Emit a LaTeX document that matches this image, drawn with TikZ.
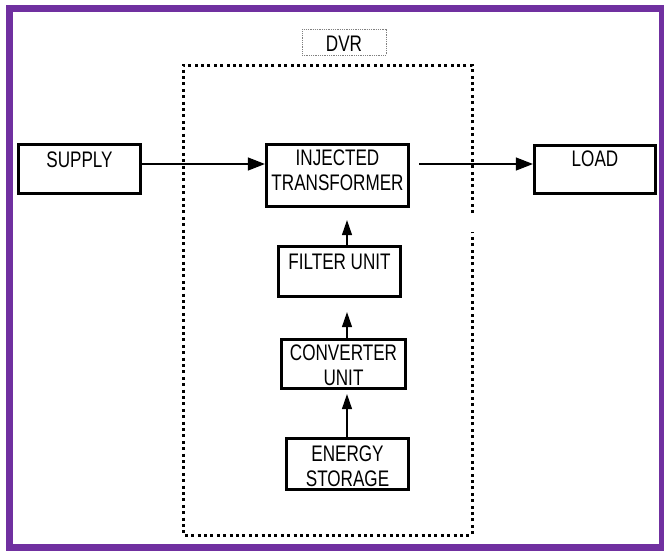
\documentclass[tikz,border=0pt]{standalone}
\usepackage{fontspec}
\setmainfont{Liberation Sans}[FakeStretch=0.76]
\usetikzlibrary{arrows.meta}
\definecolor{framepurple}{RGB}{112,48,160}
\begin{document}
\begin{tikzpicture}[x=1pt,y=-1pt,
  blk/.style={draw=black,line width=3.2pt,minimum width=#1,inner sep=0pt},
  lbl/.style={font=\fontsize{22.5}{25}\selectfont,align=center,inner sep=0pt,anchor=center},
  hflow/.style={draw=black,line width=1.2pt,-{Triangle[length=17pt,width=13pt]}},
  vflow/.style={draw=black,line width=1.2pt,-{Triangle[length=15pt,width=10pt]}},
  dvrline/.style={draw=black,line width=3pt,dash pattern=on 3pt off 3.4pt}]
\useasboundingbox (0,0) rectangle (664,550);
\fill[white] (0,0) rectangle (664,550);
\begin{scope}
\clip (0,0) rectangle (664,550);
\draw[framepurple,line width=7pt] (9.5,8.5) rectangle (662.5,547.5);
\end{scope}
% DVR enclosure
\draw[dvrline] (472,213) -- (472,65) -- (183,65) -- (183,535) -- (472,535) -- (472,232);
\node[draw=gray,line width=0.8pt,dash pattern=on 1pt off 0.8pt,minimum width=84pt,minimum height=26pt,inner sep=0pt] (dvr) at (344,42) {};
\node[lbl] (dvrtxt) at (344,44) {DVR};
% blocks
\node[blk=122pt,minimum height=49pt] (supply) at (79.5,169) {};
\node[lbl] (supplytxt) at (79.5,160) {SUPPLY};
\node[blk=142pt,minimum height=62pt] (inj) at (337.5,175.5) {};
\node[lbl] (injtxt) at (337.5,170.5) {INJECTED\\TRANSFORMER};
\node[blk=121pt,minimum height=48pt] (load) at (595,169.5) {};
\node[lbl] (loadtxt) at (595,159) {LOAD};
\node[blk=122pt,minimum height=50pt] (filter) at (339.5,271.5) {};
\node[lbl] (filtertxt) at (339.5,262) {FILTER UNIT};
\node[blk=124pt,minimum height=49pt] (conv) at (343.5,364) {};
\node[lbl] (convtxt) at (343.5,365) {CONVERTER\\UNIT};
\node[blk=122pt,minimum height=51pt] (energy) at (347.5,464) {};
\node[lbl] (energytxt) at (347.5,466) {ENERGY\\STORAGE};
% connectors
\coordinate (loadin) at (load.west |- 0,164);
\coordinate (injout) at (419,164);
\draw[hflow] (supply.east |- 0,164) -- (inj.west |- 0,164);
\draw[hflow] (injout) -- (loadin);
\draw[vflow,shorten >=12pt] (filter.north -| 347,0) -- (inj.south -| 347,0);
\draw[vflow,shorten >=14pt] (conv.north -| 347,0) -- (filter.south -| 347,0);
\draw[vflow,shorten >=4pt] (energy.north -| 347,0) -- (conv.south -| 347,0);
\end{tikzpicture}
\end{document}
